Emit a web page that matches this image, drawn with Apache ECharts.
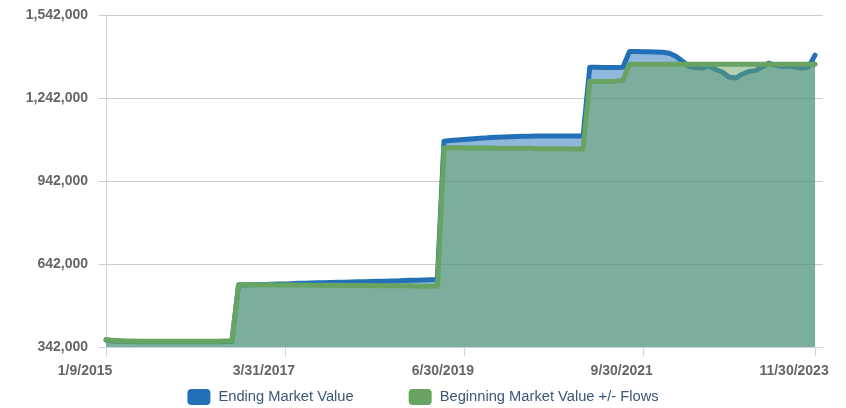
<!DOCTYPE html>
<html>
<head>
<meta charset="utf-8">
<script src="https://cdn.jsdelivr.net/npm/echarts@6/dist/echarts.min.js"></script>
<style>
html,body{margin:0;padding:0;background:#fff;}
#c{width:846px;height:408px;}
</style>
</head>
<body>
<div id="c"></div>
<script>
// Tick labels on the x axis and the point index at which each sits
const tickLabels = ['1/9/2015', '3/31/2017', '6/30/2019', '9/30/2021', '11/30/2023'];
const tickIndex = [0, 27, 54, 81, 107];

// Series names
const seriesNames = ['Ending Market Value', 'Beginning Market Value +/- Flows'];

// Ending Market Value (monthly points, index 0..107)
const endingValues = [
  367000, 364000, 363000, 362000, 362000, 361000, 361000, 361000, 361000, 361000,
  361000, 361000, 361000, 361000, 361000, 361000, 361000, 361000, 362000, 362000,
  566000, 566000, 567000, 568000, 568000, 569000, 570000, 570000, 571000, 572000,
  572000, 573000, 574000, 574000, 575000, 576000, 576000, 577000, 578000, 578000,
  579000, 580000, 580000, 581000, 581000, 582000, 583000, 583000, 584000, 585000,
  586000,
  1086000, 1088000, 1090000, 1092000, 1094000, 1096000, 1097000, 1099000, 1100000, 1101000,
  1102000, 1103000, 1104000, 1104000, 1105000, 1105000, 1105000, 1105000, 1105000, 1105000,
  1105000, 1105000,
  1353000, 1353000, 1352000, 1352000, 1352000, 1353000,
  1410000, 1410000, 1409000, 1409000, 1408000, 1407000, 1404000, 1393000, 1375000, 1356000,
  1352000, 1350000, 1358000, 1345000, 1336000, 1318000, 1314000, 1328000, 1338000, 1341000,
  1354000, 1368000, 1360000, 1356000, 1358000, 1354000, 1350000, 1354000, 1397000
];

// Beginning Market Value +/- Flows
const beginningValues = [
  369000, 366000, 365000, 364000, 364000, 363000, 363000, 363000, 363000, 363000,
  363000, 363000, 363000, 363000, 363000, 363000, 363000, 363000, 364000, 364000,
  567000, 567000, 567000, 567000, 567000, 567000, 566000, 566000, 566000, 566000,
  566000, 565000, 565000, 565000, 565000, 565000, 564000, 564000, 564000, 564000,
  564000, 563000, 563000, 563000, 563000, 563000, 563000, 562000, 562000, 562000,
  562000,
  1062000, 1062000, 1062000, 1061000, 1061000, 1061000, 1061000, 1061000, 1060000, 1060000,
  1060000, 1060000, 1060000, 1060000, 1059000, 1059000, 1059000, 1059000, 1059000, 1058000,
  1058000, 1058000,
  1302000, 1302000, 1302000, 1302000, 1303000, 1306000,
  1364000, 1364000, 1364000, 1364000, 1364000, 1364000, 1364000, 1364000, 1364000, 1364000,
  1364000, 1364000, 1364000, 1364000, 1364000, 1364000, 1364000, 1364000, 1364000, 1364000,
  1364000, 1364000, 1364000, 1364000, 1364000, 1364000, 1364000, 1364000, 1364000
];

// Y axis scale
const yMin = 342000, yMax = 1542000, yStep = 300000;

const toPairs = arr => arr.map((v, i) => [i, v]);
const labelOf = {};
tickIndex.forEach((ix, k) => { labelOf[ix] = tickLabels[k]; });

const chart = echarts.init(document.getElementById('c'), null, {renderer: 'canvas'});
const fontFam = '"Liberation Sans", Arial, Helvetica, sans-serif';

chart.setOption({
  animation: false,
  backgroundColor: '#ffffff',
  grid: {left: 99, right: 23, top: 15, bottom: 61, containLabel: false},
  legend: {
    top: 384,
    left: 'center',
    icon: 'roundRect',
    itemWidth: 23,
    itemHeight: 16,
    itemGap: 55,
    data: seriesNames,
    textStyle: {color: '#3b5677', fontSize: 14.7, fontFamily: fontFam, padding: [0, 0, 0, 3]}
  },
  xAxis: {
    type: 'value',
    min: -1.06,
    max: 108.2,
    axisLine: {show: true, lineStyle: {color: '#ccd6eb', width: 1}},
    axisTick: {show: true, customValues: tickIndex, length: 9, lineStyle: {color: '#ccd6eb'}},
    splitLine: {show: false},
    axisLabel: {
      customValues: tickIndex,
      formatter: v => labelOf[v] || '',
      color: '#666666',
      fontWeight: 'bold',
      fontSize: 14,
      fontFamily: fontFam,
      margin: 17,
      padding: [0, 42, 0, 0]
    }
  },
  yAxis: {
    type: 'value',
    min: yMin,
    max: yMax,
    interval: yStep,
    axisLine: {show: true, lineStyle: {color: '#ccd6eb', width: 1}},
    axisTick: {show: false},
    splitLine: {show: true, lineStyle: {color: '#cccccc', width: 1}},
    axisLabel: {
      formatter: v => v.toLocaleString('en-US'),
      color: '#666666',
      fontWeight: 'bold',
      fontSize: 14,
      fontFamily: fontFam,
      margin: 11
    }
  },
  series: [
    {
      name: seriesNames[0],
      type: 'line',
      data: toPairs(endingValues),
      symbol: 'none',
      color: '#2271b8',
      lineStyle: {color: '#2271b8', width: 5, cap: 'round', join: 'round'},
      areaStyle: {color: 'rgba(34,113,184,0.5)', opacity: 1},
      z: 2
    },
    {
      name: seriesNames[1],
      type: 'line',
      data: toPairs(beginningValues),
      symbol: 'none',
      color: '#67a361',
      lineStyle: {color: '#67a361', width: 5, cap: 'round', join: 'round'},
      areaStyle: {color: 'rgba(103,163,97,0.5)', opacity: 1},
      z: 3
    }
  ]
});
</script>
</body>
</html>
